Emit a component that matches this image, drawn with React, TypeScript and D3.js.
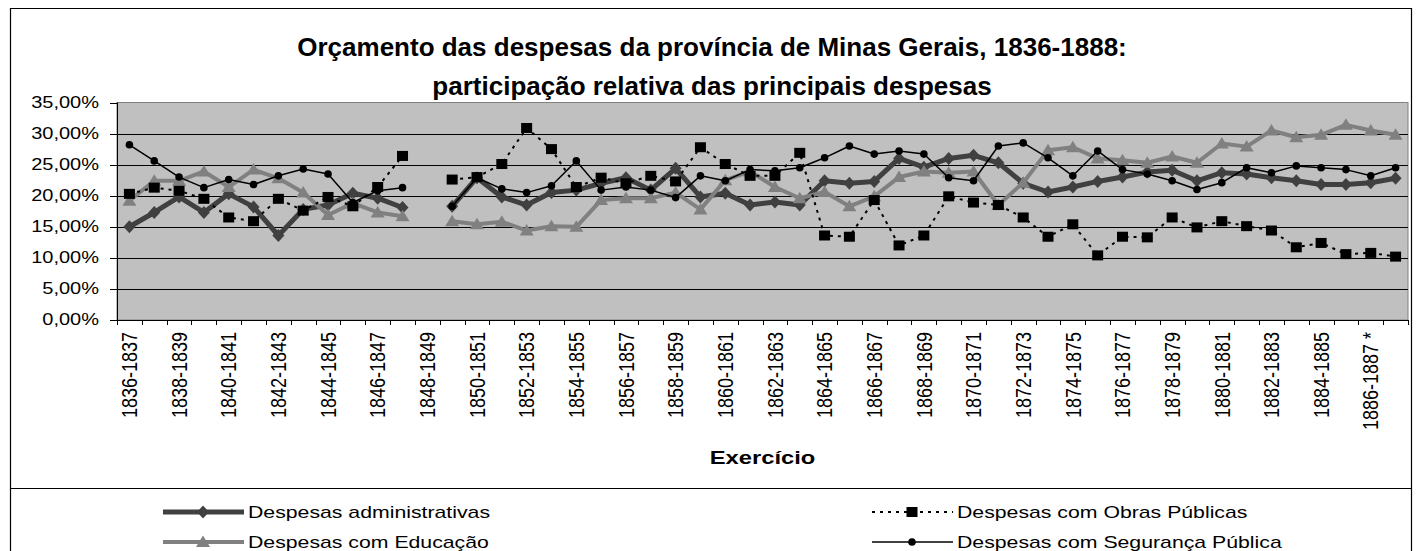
import React from "react";
import * as d3 from "d3";

// exercícios (anos fiscais) 1836-1837 ... 1887-1888
const categories = [
  "1836-1837", "1837-1838", "1838-1839", "1839-1840", "1840-1841", "1841-1842",
  "1842-1843", "1843-1844", "1844-1845", "1845-1846", "1846-1847", "1847-1848",
  "1848-1849", "1849-1850", "1850-1851", "1851-1852", "1852-1853", "1853-1854",
  "1854-1855", "1855-1856", "1856-1857", "1857-1858", "1858-1859", "1859-1860",
  "1860-1861", "1861-1862", "1862-1863", "1863-1864", "1864-1865", "1865-1866",
  "1866-1867", "1867-1868", "1868-1869", "1869-1870", "1870-1871", "1871-1872",
  "1872-1873", "1873-1874", "1874-1875", "1875-1876", "1876-1877", "1877-1878",
  "1878-1879", "1879-1880", "1880-1881", "1881-1882", "1882-1883", "1883-1884",
  "1884-1885", "1885-1886", "1886-1887 *", "1887-1888",
];

// participação relativa (%) — null = sem dados (1848-1849)
const administrativas = [
  15.0, 17.3, 19.8, 17.3, 20.3, 18.2, 13.6, 17.8, 18.5, 20.4, 19.6, 18.1,
  null, 18.3, 22.9, 19.8, 18.5, 20.5, 20.9, 22.0, 22.9, 20.9, 24.4, 19.8,
  20.4, 18.5, 19.0, 18.5, 22.4, 22.0, 22.3, 26.0, 24.6, 26.0, 26.5, 25.3,
  22.0, 20.6, 21.4, 22.3, 23.0, 23.8, 24.1, 22.4, 23.7, 23.5, 22.9, 22.4,
  21.8, 21.8, 22.1, 22.8,
];
const obrasPublicas = [
  20.3, 21.3, 20.8, 19.5, 16.5, 15.9, 19.5, 17.6, 19.8, 18.3, 21.4, 26.4,
  null, 22.6, 23.0, 25.1, 30.9, 27.5, 21.4, 22.9, 22.0, 23.2, 22.3, 27.8,
  25.1, 23.2, 23.2, 26.9, 13.6, 13.4, 19.3, 12.0, 13.6, 19.9, 18.9, 18.5,
  16.5, 13.4, 15.4, 10.4, 13.4, 13.3, 16.5, 14.9, 15.9, 15.1, 14.4, 11.7,
  12.4, 10.6, 10.8, 10.2,
];
const educacao = [
  19.2, 22.4, 22.4, 23.9, 21.4, 24.2, 22.8, 20.5, 16.9, 18.8, 17.3, 16.7,
  null, 15.9, 15.4, 15.8, 14.4, 15.1, 15.0, 19.3, 19.6, 19.6, 20.5, 17.8,
  22.5, 23.9, 21.4, 19.6, 20.6, 18.3, 19.9, 23.0, 23.9, 23.7, 23.9, 18.5,
  22.1, 27.3, 27.8, 26.0, 25.7, 25.3, 26.3, 25.3, 28.4, 27.9, 30.5, 29.4,
  29.8, 31.4, 30.5, 29.8,
];
const seguranca = [
  28.2, 25.6, 23.0, 21.3, 22.6, 21.8, 23.2, 24.3, 23.5, 18.9, 20.8, 21.3,
  null, 18.3, 22.9, 21.1, 20.5, 21.6, 25.6, 20.9, 21.4, 20.9, 19.7, 23.2,
  22.4, 24.2, 24.0, 24.5, 26.1, 28.0, 26.7, 27.2, 26.7, 22.9, 22.4, 28.0,
  28.5, 26.1, 23.2, 27.2, 24.2, 23.5, 22.4, 21.0, 22.1, 24.5, 23.7, 24.8,
  24.5, 24.2, 23.2, 24.5,
];

const yTicks = [0, 5, 10, 15, 20, 25, 30, 35];

const FONT = "'Liberation Sans', Arial, sans-serif";
const SX = 1.25; // texto do original aparece esticado na horizontal

const series = [
  { name: "Despesas administrativas", values: administrativas, color: "#404040", width: 5, dash: null, marker: "diamond", col: 0, row: 0 },
  { name: "Despesas com Educação", values: educacao, color: "#808080", width: 4, dash: null, marker: "triangle", col: 0, row: 1 },
  { name: "Despesas com Obras Públicas", values: obrasPublicas, color: "#000000", width: 2, dash: "3,5", marker: "square", col: 1, row: 0 },
  { name: "Despesas com Segurança Pública", values: seguranca, color: "#000000", width: 1.5, dash: null, marker: "circle", col: 1, row: 1 },
];

function Marker({ type, x, y, color }) {
  if (type === "diamond")
    return <path d={`M${x},${y - 6.5}L${x + 6},${y}L${x},${y + 6.5}L${x - 6},${y}Z`} fill={color} />;
  if (type === "triangle")
    return <path d={`M${x},${y - 6.5}L${x + 7},${y + 5}L${x - 7},${y + 5}Z`} fill={color} />;
  if (type === "square")
    return <rect x={x - 5.5} y={y - 5} width={11} height={10} fill={color} />;
  return <circle cx={x} cy={y} r={3.8} fill={color} />;
}

function Txt({ x, y, size, anchor = "start", bold = false, sx = SX, children }) {
  return (
    <text
      transform={`translate(${x},${y}) scale(${sx},1)`}
      textAnchor={anchor}
      dominantBaseline="central"
      fontSize={size}
      fontWeight={bold ? "bold" : "normal"}
    >
      {children}
    </text>
  );
}

export default function App() {
  const W = 1419;
  const H = 551;
  const left = 117, right = 1408, top = 102.5, bottom = 320;

  const x = d3.scaleBand().domain(categories).range([left, right]);
  const y = d3.scaleLinear().domain([0, 35]).range([bottom, top]);
  const cx = (i) => x(categories[i]) + x.bandwidth() / 2;

  const line = d3
    .line()
    .defined((d) => d != null)
    .x((d, i) => cx(i))
    .y((d) => y(d));

  const fmt = (v) => v.toFixed(2).replace(".", ",") + "%";
  const plotCenter = (left + right) / 2;

  const legendX = [163, 872];
  const legendY = [512, 542];

  return (
    <svg width={W} height={H} style={{ display: "block", position: "absolute", left: 0, top: 0 }} fontFamily={FONT}>
      <rect x={0} y={0} width={W} height={H} fill="#fff" />
      {/* moldura */}
      <path d={`M10.5,${H}V8.5H1411.5V${H}`} fill="none" stroke="#000" strokeWidth={1.2} />
      <line x1={10} x2={1412} y1={488.5} y2={488.5} stroke="#000" />

      <Txt x={712} y={47} size={26} anchor="middle" bold sx={1}>
        Orçamento das despesas da província de Minas Gerais, 1836-1888:
      </Txt>
      <Txt x={712} y={86} size={26} anchor="middle" bold sx={1}>
        participação relativa das principais despesas
      </Txt>

      {/* área do gráfico */}
      <rect x={left} y={top} width={right - left} height={bottom - top} fill="#c0c0c0" stroke="#808080" />
      {yTicks.slice(1, -1).map((t) => (
        <line key={t} x1={left} x2={right} y1={Math.round(y(t)) + 0.5} y2={Math.round(y(t)) + 0.5} stroke="#000" />
      ))}

      {/* eixo Y */}
      <line x1={left + 0.5} x2={left + 0.5} y1={top} y2={bottom} stroke="#000" />
      {yTicks.map((t) => (
        <g key={t}>
          <line x1={left - 7} x2={left} y1={Math.round(y(t)) + 0.5} y2={Math.round(y(t)) + 0.5} stroke="#000" />
          <Txt x={99} y={y(t)} size={16} anchor="end">
            {fmt(t)}
          </Txt>
        </g>
      ))}

      {/* eixo X */}
      <line x1={left} x2={right} y1={bottom + 0.5} y2={bottom + 0.5} stroke="#000" />
      {d3.range(categories.length + 1).map((i) => {
        const xx = Math.round(left + i * x.bandwidth()) + 0.5;
        return <line key={i} x1={xx} x2={xx} y1={bottom} y2={bottom + 5} stroke="#000" />;
      })}
      {categories.map((c, i) =>
        i % 2 === 0 ? (
          <text
            key={c}
            transform={`translate(${cx(i)},332) rotate(-90) scale(1,${SX})`}
            textAnchor="end"
            dominantBaseline="central"
            fontSize={18}
          >
            {c}
          </text>
        ) : null
      )}
      <Txt x={plotCenter} y={458} size={19} anchor="middle" bold>
        Exercício
      </Txt>

      {/* séries */}
      {series.map((s) => (
        <g key={s.name}>
          <path d={line(s.values)} fill="none" stroke={s.color} strokeWidth={s.width} strokeDasharray={s.dash || undefined} strokeLinejoin="round" />
          {s.values.map((v, i) => (v == null ? null : <Marker key={i} type={s.marker} x={cx(i)} y={y(v)} color={s.color} />))}
        </g>
      ))}

      {/* legenda */}
      {series.map((s) => {
        const lx = legendX[s.col];
        const ly = legendY[s.row];
        return (
          <g key={s.name}>
            <line x1={lx} x2={lx + 81} y1={ly} y2={ly} stroke={s.color} strokeWidth={s.width} strokeDasharray={s.dash || undefined} />
            <Marker type={s.marker} x={lx + 40} y={ly} color={s.color} />
            <Txt x={lx + 85} y={ly} size={17}>
              {s.name}
            </Txt>
          </g>
        );
      })}
    </svg>
  );
}
